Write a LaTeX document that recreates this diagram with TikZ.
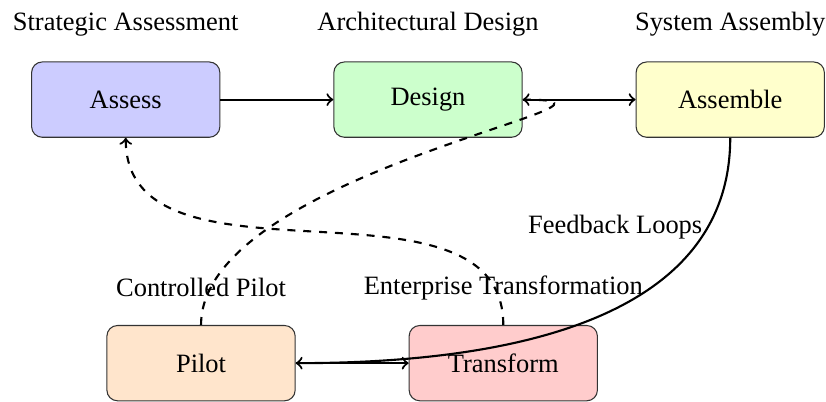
\documentclass[tikz,border=0pt]{standalone}
\usepackage{fontspec}
\setmainfont{Liberation Serif}
\usetikzlibrary{positioning,calc}
\definecolor{assessfill}{HTML}{CCCCFF}
\definecolor{designfill}{HTML}{CCFFCC}
\definecolor{assemblefill}{HTML}{FFFFCC}
\definecolor{pilotfill}{HTML}{FFE5CC}
\definecolor{transformfill}{HTML}{FFCCCC}
\tikzset{
  stagebox/.style={draw=black!80, rounded corners=4pt, minimum width=2.5cm,
                   minimum height=1cm, align=center},
  lbltext/.style={align=center},
  arr/.style={->, thick},
  darr/.style={->, thick, dashed}}
\begin{document}
\begin{tikzpicture}
  \useasboundingbox (-1.67,-4.01) rectangle (9.3,1.323);
  % stages
  \node[stagebox, fill=assessfill] (assess) at (0,0) {Assess};
  \node[stagebox, fill=designfill, right=1.5cm of assess] (design) {Design};
  \node[stagebox, fill=assemblefill, right=1.5cm of design] (assemble) {Assemble};
  \node[stagebox, fill=pilotfill] (pilot) at (1,-3.5) {Pilot};
  \node[stagebox, fill=transformfill, right=1.5cm of pilot] (transform) {Transform};

  % phase names
  \node[lbltext] (assesslbl) at ([yshift=1cm]assess.center) {Strategic Assessment};
  \node[lbltext] (designlbl) at ([yshift=1cm]design.center) {Architectural Design};
  \node[lbltext] (assemblelbl) at ([yshift=1cm]assemble.center) {System Assembly};
  \node[lbltext] (pilotlbl) at ([yshift=1cm]pilot.center) {Controlled Pilot};
  \node[lbltext] (transformlbl) at ([yshift=1cm]transform.center) {Enterprise Transformation};
  \node[lbltext] (feedbacklbl) at (6.5,-1.7) {Feedback Loops};

  % flow
  \draw[arr] (assess) -- (design);
  \draw[arr] (design) -- (assemble);
  \draw[arr] (assemble) to[out=-90, in=0] (pilot);
  \draw[arr] (pilot) -- (transform);
  \draw[darr] (pilot) to[out=90, in=0] (design);
  \draw[darr] (transform) to[out=90, in=-90] (assess);
\end{tikzpicture}
\end{document}
